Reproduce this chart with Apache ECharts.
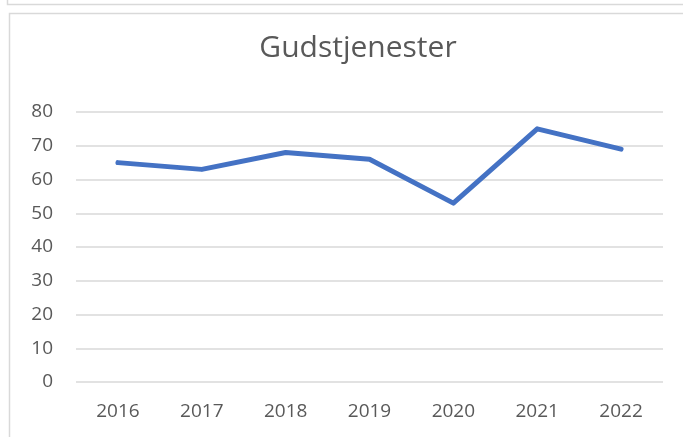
<!DOCTYPE html>
<html>
<head>
<meta charset="utf-8">
<script src="https://cdn.jsdelivr.net/npm/echarts@6/dist/echarts.min.js"></script>
<style>
    html, body { margin: 0; padding: 0; background: #ffffff; }
    #chart { width: 683px; height: 437px; }
</style>
</head>
<body>
<div id="chart"></div>
<script>
// data
var years = ["2016", "2017", "2018", "2019", "2020", "2021", "2022"];
var gudstjenester = [65, 63, 68, 66, 53, 75, 69];
var yTicks = [0, 10, 20, 30, 40, 50, 60, 70, 80];

var font = "'Open Sans', 'Noto Sans', sans-serif";
var textColor = "#595959";

var myChart = echarts.init(document.getElementById("chart"));
var option = {
    animation: false,
    backgroundColor: "#ffffff",
    title: {
        text: "Gudstjenester",
        left: 353,
        textAlign: "center",
        top: 28,
        textStyle: {
            color: textColor,
            fontFamily: font,
            fontSize: 30,
            fontWeight: "normal"
        }
    },
    // chart frames (screenshot borders)
    graphic: [
        {
            type: "rect",
            shape: { x: 7.5, y: -10, width: 700, height: 14.5 },
            style: { fill: "none", stroke: "#d9d9d9", lineWidth: 1.5 }
        },
        {
            type: "rect",
            shape: { x: 9.5, y: 13.5, width: 700, height: 460 },
            style: { fill: "none", stroke: "#d9d9d9", lineWidth: 1.5 }
        }
    ],
    grid: {
        left: 76,
        right: 20,
        top: 112,
        bottom: 55
    },
    xAxis: {
        type: "category",
        data: years,
        boundaryGap: true,
        axisLine: { show: false },
        axisTick: { show: false },
        axisLabel: {
            color: textColor,
            fontFamily: font,
            fontSize: 19,
            margin: 20
        }
    },
    yAxis: {
        type: "value",
        min: yTicks[0],
        max: yTicks[yTicks.length - 1],
        interval: 10,
        axisLine: { show: false },
        axisTick: { show: false },
        axisLabel: {
            color: textColor,
            fontFamily: font,
            fontSize: 19,
            margin: 23
        },
        splitLine: {
            lineStyle: { color: "#d9d9d9", width: 1.5 }
        }
    },
    series: [
        {
            name: "Gudstjenester",
            type: "line",
            data: gudstjenester,
            symbol: "none",
            lineStyle: { color: "#4472c4", width: 5, cap: "round", join: "round" }
        }
    ]
};
myChart.setOption(option);
</script>
</body>
</html>
